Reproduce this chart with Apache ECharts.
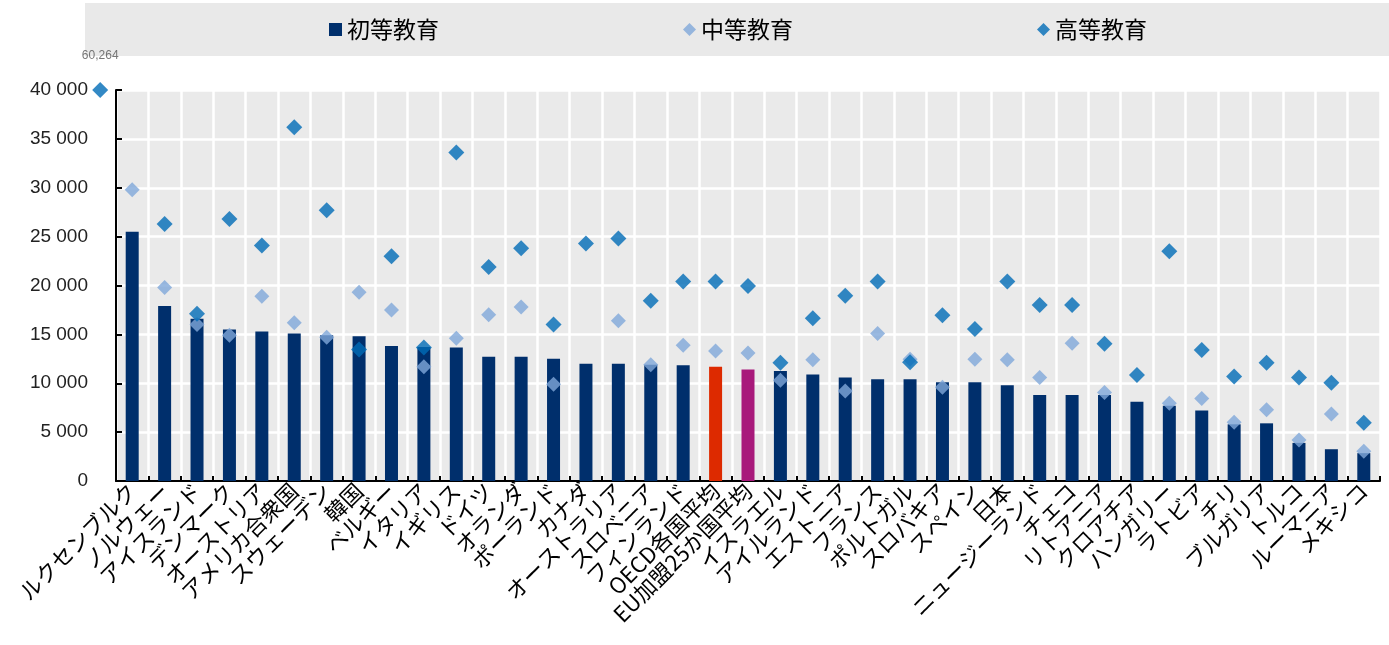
<!DOCTYPE html>
<html>
<head>
<meta charset="utf-8">
<script src="https://cdn.jsdelivr.net/npm/echarts@6/dist/echarts.min.js"></script>
<style>
  html, body { margin: 0; padding: 0; background: #fff; }
  #chart { width: 1389px; height: 645px; }
</style>
</head>
<body>
<div id="chart"></div>
<script>
const categories = [
  'ルクセンブルク', 'ノルウェー', 'アイスランド', 'デンマーク', 'オーストリア', 'アメリカ合衆国',
  'スウェーデン', '韓国', 'ベルギー', 'イタリア', 'イギリス', 'ドイツ', 'オランダ', 'ポーランド',
  'カナダ', 'オーストラリア', 'スロベニア', 'フィンランド', 'OECD各国平均', 'EU加盟25か国平均',
  'イスラエル', 'アイルランド', 'エストニア', 'フランス', 'ポルトガル', 'スロバキア', 'スペイン',
  '日本', 'ニュージーランド', 'チェコ', 'リトアニア', 'クロアチア', 'ハンガリー', 'ラトビア',
  'チリ', 'ブルガリア', 'トルコ', 'ルーマニア', 'メキシコ'
]

// 初等教育
const primary = [
  25500, 17900, 16600, 15500, 15300, 15100, 14900, 14800, 13800, 13700, 13650, 12700, 12700,
  12500, 12000, 12000, 11900, 11850, 11700, 11400, 11250, 10900, 10600, 10400, 10400, 10100,
  10100, 9800, 8800, 8800, 8800, 8100, 7700, 7200, 5800, 5900, 3900, 3250, 2850
]

// 中等教育 (null = no data)
const secondary = [
  29800, 19800, 16000, 14900, 18900, 16200, 14700, 19300, 17500, 11700, 14600, 17000, 17800,
  9900, null, 16400, 11900, 13900, 13300, 13100, 10300, 12400, 9200, 15100, 12450, 9600,
  12450, 12400, 10600, 14100, 9050, null, 7950, 8450, 6000, 7300, 4200, 6850, 3050
]

// 高等教育
const tertiary = [
  60264, 26300, 17100, 26800, 24100, 36200, 27700, 13450, 23000, 13650, 33600, 21900, 23800,
  16000, 24300, 24800, 18450, 20400, 20400, 19950, 12100, 16650, 18950, 20400, 12150, 16950,
  15550, 20400, 18000, 18000, 14050, 10850, 23500, 13400, 10700, 12100, 10600, 10050, 5950
]

const yMax = 40000
const yInterval = 5000

const barColor = '#002F6C'
const highlight = {
  'OECD各国平均': '#DD2A00',
  'EU加盟25か国平均': '#A8197B'
}

const fmtSpace = v => String(v).replace(/\B(?=(\d{3})+(?!\d))/g, ' ')
const fmtComma = v => String(v).replace(/\B(?=(\d{3})+(?!\d))/g, ',')

const chart = echarts.init(document.getElementById('chart'))

chart.setOption({
  animation: false,
  backgroundColor: '#fff',
  graphic: [{
    type: 'rect',
    left: 85,
    top: 3,
    shape: { width: 1304, height: 53 },
    style: { fill: '#E9E9E9' },
    z: -10
  }],
  legend: {
    left: 324,
    top: 13,
    itemGap: 244,
    itemWidth: 13,
    itemHeight: 13,
    textStyle: { fontSize: 23, color: '#000', fontFamily: 'Noto Sans CJK JP' },
    data: [
      { name: '初等教育', icon: 'rect' },
      { name: '中等教育', icon: 'diamond', itemStyle: { color: '#7FA7DA' } },
      { name: '高等教育', icon: 'diamond' }
    ]
  },
  grid: {
    left: 116,
    right: 9,
    top: 90,
    bottom: 164,
    show: true,
    backgroundColor: '#EAEAEA',
    borderWidth: 0
  },
  xAxis: {
    type: 'category',
    data: categories,
    boundaryGap: true,
    axisLine: { lineStyle: { color: '#000', width: 2 } },
    axisTick: { show: true, inside: true, length: 5, interval: 0, lineStyle: { color: '#000', width: 2 } },
    splitLine: { show: true, interval: 0, lineStyle: { color: '#fff', width: 2.5 } },
    axisLabel: {
      interval: 0,
      rotate: 45,
      margin: 6,
      fontSize: 22,
      color: '#000',
      fontFamily: 'Noto Sans CJK JP'
    }
  },
  yAxis: {
    type: 'value',
    min: 0,
    max: yMax,
    interval: yInterval,
    axisLine: { show: true, lineStyle: { color: '#000', width: 2 } },
    axisTick: { show: true, inside: true, length: 6, lineStyle: { color: '#000', width: 2 } },
    splitLine: { show: true, lineStyle: { color: '#fff', width: 2.5 } },
    axisLabel: {
      margin: 28,
      fontSize: 19,
      color: '#222',
      fontFamily: 'Liberation Sans',
      formatter: v => fmtSpace(v)
    }
  },
  series: [{
    name: '初等教育',
    type: 'bar',
    barWidth: 13,
    itemStyle: { color: barColor },
    data: primary.map((v, i) => highlight[categories[i]]
      ? { value: v, itemStyle: { color: highlight[categories[i]] } }
      : v),
    z: 2
  }, {
    name: '中等教育',
    type: 'scatter',
    symbol: 'diamond',
    symbolSize: 15,
    itemStyle: { color: '#7FA7DA' },
    data: secondary,
    z: 3
  }, {
    name: '高等教育',
    type: 'scatter',
    symbol: 'diamond',
    symbolSize: 16,
    clip: false,
    itemStyle: { color: '#006BB6' },
    data: tertiary.map(v => v > yMax
      ? {
          value: yMax,
          symbolOffset: [-32, 0],
          label: {
            show: true,
            position: 'top',
            distance: 20,
            fontSize: 12,
            color: '#555',
            fontFamily: 'Liberation Sans',
            formatter: () => fmtComma(v)
          }
        }
      : v),
    z: 4
  }]
})
</script>
</body>
</html>
